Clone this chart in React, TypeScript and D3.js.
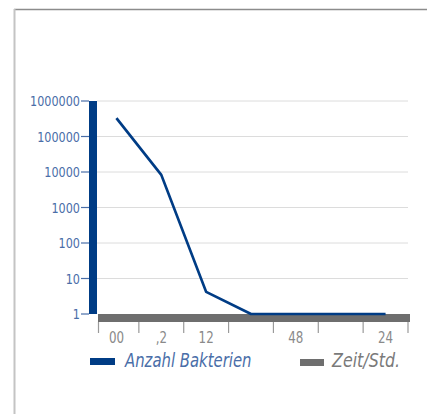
import * as React from 'react';
import * as d3 from 'd3';

// Zeitpunkte (Beschriftung der x-Achse) und Bakterienzahl
const zeitLabels = ['00', ',2', '12', '', '48', '', '24'];
const bakterien = [330000, 8300, 4.2, 1, 1, 1, 1];
const yTickValues = [1, 10, 100, 1000, 10000, 100000, 1000000];

const width = 427;
const height = 414;
const plot = {left: 97, right: 408, top: 101, bottom: 314};

const blue = '#003c85';
const labelBlue = '#4a6ea8';
const gray = '#6e6e6e';
const font = '"DejaVu Sans Condensed", sans-serif';

// schmale Schrift nachbilden: waagerecht gestauchter Text
const Narrow = (props: {x: number; y: number; sx: number; anchor?: string; size: number; fill: string; italic?: boolean; children: React.ReactNode}) => (
    <g transform={`translate(${props.x},${props.y}) scale(${props.sx},1)`}>
        <text textAnchor={props.anchor || 'start'} fontFamily={font} fontSize={props.size}
            fontStyle={props.italic ? 'italic' : 'normal'} fill={props.fill}>{props.children}</text>
    </g>
);

export default function App() {
    const x = d3.scaleBand<string>()
        .domain(zeitLabels.map((_, i) => String(i)))
        .range([94, plot.right])
        .padding(0);

    const y = d3.scaleLog()
        .domain([1, 1000000])
        .range([plot.bottom, plot.top]);

    const cx = (i: number) => (x(String(i)) as number) + x.bandwidth() / 2;

    const line = d3.line<number>()
        .x((_, i) => cx(i))
        .y((d) => y(d));

    const tickXs = zeitLabels.map((_, i) => x(String(i)) as number).concat([plot.right]);

    return (
        <svg width={width} height={height} style={{position: 'absolute', left: 0, top: 0, display: 'block'}}>
            {/* Rahmen */}
            <line x1={14} x2={width} y1={9.5} y2={9.5} stroke='#8c8c8c' strokeWidth={1.5} />
            <line x1={14.5} x2={14.5} y1={9} y2={height} stroke='#c4c4c4' strokeWidth={2} />

            {/* Gitterlinien */}
            {yTickValues.slice(1).map((t) => (
                <line key={t} x1={plot.left} x2={plot.right} y1={y(t)} y2={y(t)} stroke='#dcdcdc' strokeWidth={1} />
            ))}

            {/* y-Achse */}
            <rect x={89} y={plot.top} width={8} height={plot.bottom - plot.top} fill={blue} />
            {yTickValues.map((t) => (
                <g key={t}>
                    <line x1={81} x2={89} y1={y(t)} y2={y(t)} stroke={labelBlue} strokeWidth={1.2} />
                    <Narrow x={80} y={y(t) + 5} sx={0.89} anchor='end' size={14} fill={labelBlue}>{t}</Narrow>
                </g>
            ))}

            {/* x-Achse */}
            <rect x={98} y={plot.bottom} width={plot.right + 2 - 98} height={8} fill={gray} />
            {tickXs.map((tx, i) => (
                <line key={i} x1={Math.max(tx, 98.5)} x2={Math.max(tx, 98.5)} y1={322} y2={333} stroke='#9a9a9a' strokeWidth={1.2} />
            ))}
            {zeitLabels.map((l, i) => (
                <Narrow key={i} x={cx(i)} y={343} sx={0.88} anchor='middle' size={15} fill='#8a8a8a'>{l}</Narrow>
            ))}

            {/* Datenlinie */}
            <path d={line(bakterien) || ''} fill='none' stroke={blue} strokeWidth={2.7} strokeLinejoin='round' />

            {/* Legende */}
            <rect x={90} y={358} width={25} height={7} fill={blue} />
            <Narrow x={125} y={367} sx={0.87} size={19} fill={labelBlue} italic>Anzahl Bakterien</Narrow>
            <rect x={300} y={359} width={24} height={7} fill={gray} />
            <Narrow x={332} y={367} sx={0.93} size={19} fill='#7a7a7a' italic>Zeit/Std.</Narrow>
        </svg>
    );
}
